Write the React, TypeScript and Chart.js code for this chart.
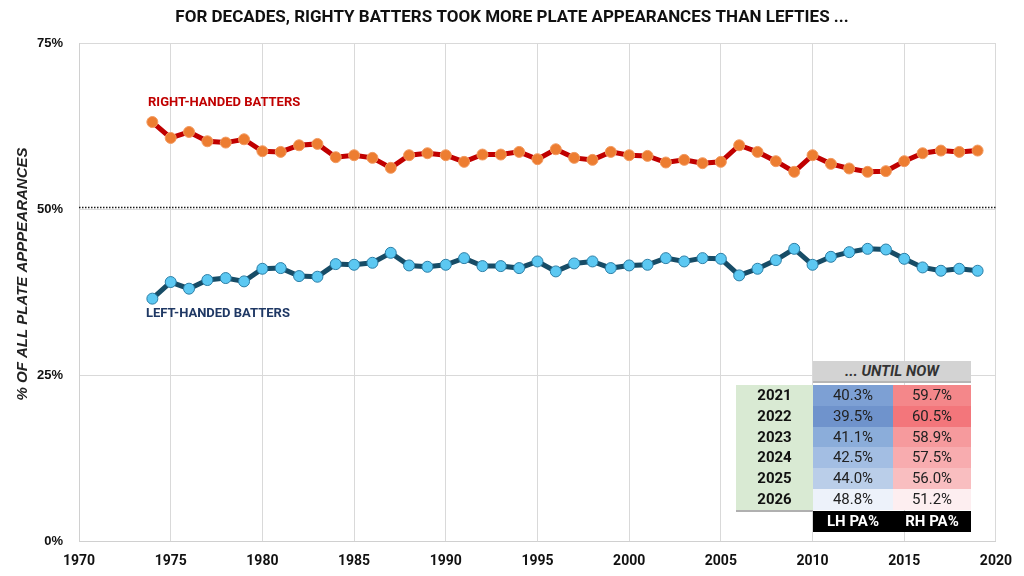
import React, { useEffect, useRef } from "react";
import { Chart, registerables } from "chart.js";

Chart.register(...registerables);

const years = [
  1974, 1975, 1976, 1977, 1978, 1979, 1980, 1981, 1982, 1983,
  1984, 1985, 1986, 1987, 1988, 1989, 1990, 1991, 1992, 1993,
  1994, 1995, 1996, 1997, 1998, 1999, 2000, 2001, 2002, 2003,
  2004, 2005, 2006, 2007, 2008, 2009, 2010, 2011, 2012, 2013,
  2014, 2015, 2016, 2017, 2018, 2019,
];

const rhValues = [
  63.1, 60.7, 61.6, 60.2, 60.0, 60.5, 58.7, 58.6, 59.6, 59.8,
  57.8, 58.1, 57.7, 56.2, 58.1, 58.4, 58.1, 57.1, 58.2, 58.2,
  58.6, 57.5, 59.0, 57.7, 57.4, 58.6, 58.1, 58.0, 57.0, 57.4,
  56.9, 57.1, 59.6, 58.6, 57.2, 55.6, 58.1, 56.8, 56.1, 55.6,
  55.7, 57.2, 58.4, 58.8, 58.6, 58.8,
];

const lhValues = [
  36.5, 39.0, 38.0, 39.3, 39.6, 39.1, 41.0, 41.1, 39.9, 39.8,
  41.7, 41.6, 41.9, 43.4, 41.5, 41.3, 41.6, 42.6, 41.4, 41.4,
  41.1, 42.1, 40.6, 41.8, 42.1, 41.1, 41.5, 41.6, 42.6, 42.1,
  42.6, 42.5, 40.0, 41.0, 42.3, 44.0, 41.6, 42.8, 43.5, 44.0,
  43.9, 42.5, 41.2, 40.7, 41.0, 40.7,
];

const referenceValue = 50;

const tableYears = ["2021", "2022", "2023", "2024", "2025", "2026"];
const tableLH = ["40.3%", "39.5%", "41.1%", "42.5%", "44.0%", "48.8%"];
const tableRH = ["59.7%", "60.5%", "58.9%", "57.5%", "56.0%", "51.2%"];
const lhShades = ["#7da0d4", "#6f93cc", "#8badda", "#a3bee3", "#bacee9", "#edf2fa"];
const rhShades = ["#f4878a", "#f3767b", "#f69a9d", "#f8acaf", "#f9bec0", "#fdeef0"];

const TITLE = "FOR DECADES, RIGHTY BATTERS TOOK MORE PLATE APPEARANCES THAN LEFTIES ...";
const Y_TITLE = "% OF ALL PLATE APPPEARANCES";

export default function App() {
  const canvasRef = useRef<HTMLCanvasElement | null>(null);

  useEffect(() => {
    if (!canvasRef.current) return;
    const refLinePlugin = {
      id: "refLine",
      beforeDatasetsDraw(chart: any) {
        const { ctx, chartArea, scales } = chart;
        const y = Math.round(scales.y.getPixelForValue(referenceValue)) - 1.5;
        ctx.save();
        ctx.strokeStyle = "#1a1a1a";
        ctx.lineWidth = 1.5;
        ctx.setLineDash([1.5, 1.5]);
        ctx.beginPath();
        ctx.moveTo(chartArea.left, y);
        ctx.lineTo(chartArea.right, y);
        ctx.stroke();
        ctx.restore();
      },
      afterDraw(chart: any) {
        const { ctx } = chart;
        ctx.save();
        ctx.translate(22.5, 274);
        ctx.rotate(-Math.PI / 2);
        ctx.font = "italic bold 15px 'Liberation Sans', Arial, sans-serif";
        ctx.fillStyle = "#222222";
        ctx.textAlign = "center";
        ctx.textBaseline = "middle";
        ctx.fillText(Y_TITLE, 0, 0);
        ctx.restore();
      },
    };

    const chart = new Chart(canvasRef.current, {
      type: "line",
      data: {
        datasets: [
          {
            label: "Right-handed batters",
            data: years.map((yr, i) => ({ x: yr, y: rhValues[i] })),
            borderColor: "#c00000",
            borderWidth: 5,
            pointBackgroundColor: "#ed7d31",
            pointBorderColor: "#f19a60",
            pointBorderWidth: 1,
            pointRadius: 5.5,
            tension: 0,
          },
          {
            label: "Left-handed batters",
            data: years.map((yr, i) => ({ x: yr, y: lhValues[i] })),
            borderColor: "#174c66",
            borderWidth: 5,
            pointBackgroundColor: "#5cc8f2",
            pointBorderColor: "#2b7ea6",
            pointBorderWidth: 1,
            pointRadius: 5.5,
            tension: 0,
          },
        ],
      },
      options: {
        animation: false,
        responsive: false,
        maintainAspectRatio: false,
        layout: { padding: { left: 26, right: 26, top: 0, bottom: 0 } },
        plugins: {
          legend: { display: false },
          tooltip: { enabled: false },
          title: {
            display: true,
            text: TITLE,
            color: "#111111",
            font: { family: "Roboto", size: 17, weight: "bold" },
            padding: { top: 8, bottom: 14.6 },
          },
        },
        scales: {
          x: {
            type: "linear",
            min: 1970,
            max: 2020,
            ticks: {
              stepSize: 5,
              autoSkip: false,
              maxRotation: 0,
              padding: 12,
              color: "#111111",
              font: { family: "Roboto", size: 14, weight: "bold" },
              callback: (v: any) => String(v),
            },
            grid: { color: "#d9d9d9", lineWidth: 1, drawTicks: false },
            border: { color: "#d0d0d0" },
            afterFit: (s: any) => {
              s.height = 35;
            },
          },
          y: {
            min: 0,
            max: 75,
            ticks: {
              stepSize: 25,
              padding: 16,
              color: "#111111",
              font: { family: "Liberation Sans", size: 13, weight: "bold" },
              callback: (v: any) => v + "%",
            },
            grid: { color: "#d9d9d9", lineWidth: 1, drawTicks: false },
            border: { color: "#d0d0d0" },
            afterFit: (s: any) => {
              s.width = 53;
            },
          },
        },
      },
      plugins: [refLinePlugin],
    } as any);

    return () => chart.destroy();
  }, []);

  const font = "Roboto, 'Liberation Sans', sans-serif";
  const rowTop = 385;
  const rowH = 20.8;

  return (
    <div
      style={{
        position: "fixed",
        left: 0,
        top: 0,
        width: 1024,
        height: 576,
        background: "#ffffff",
        overflow: "hidden",
        fontFamily: font,
      }}
    >
      <canvas ref={canvasRef} width={1024} height={576} style={{ display: "block", width: 1024, height: 576 }} />

      <div
        style={{
          position: "absolute",
          left: 148,
          top: 94,
          fontSize: 13,
          fontWeight: 700,
          color: "#c00000",
          whiteSpace: "nowrap",
          lineHeight: "16px",
        }}
      >
        RIGHT-HANDED BATTERS
      </div>
      <div
        style={{
          position: "absolute",
          left: 146,
          top: 305,
          fontSize: 13,
          fontWeight: 700,
          color: "#1f3864",
          whiteSpace: "nowrap",
          lineHeight: "16px",
        }}
      >
        LEFT-HANDED BATTERS
      </div>

      {/* header */}
      <div
        style={{
          position: "absolute",
          left: 813,
          top: 361,
          width: 158,
          height: 22,
          background: "#d3d3d3",
          borderBottom: "2px solid #b5b5b5",
          boxSizing: "border-box",
          textAlign: "center",
          fontSize: 15,
          fontWeight: 700,
          fontStyle: "italic",
          color: "#333333",
          lineHeight: "21px",
        }}
      >
        ... UNTIL NOW
      </div>

      {tableYears.map((yr, i) => (
        <React.Fragment key={yr}>
          <div
            style={{
              position: "absolute",
              left: 736,
              top: rowTop + i * rowH,
              width: 77,
              height: rowH + 0.5,
              background: "#d9ead3",
              textAlign: "center",
              fontSize: 15,
              fontWeight: 700,
              color: "#111111",
              lineHeight: rowH + "px",
            }}
          >
            {yr}
          </div>
          <div
            style={{
              position: "absolute",
              left: 813,
              top: rowTop + i * rowH,
              width: 80,
              height: rowH + 0.5,
              background: lhShades[i],
              textAlign: "center",
              fontSize: 15,
              color: "#222222",
              lineHeight: rowH + "px",
            }}
          >
            {tableLH[i]}
          </div>
          <div
            style={{
              position: "absolute",
              left: 893,
              top: rowTop + i * rowH,
              width: 78,
              height: rowH + 0.5,
              background: rhShades[i],
              textAlign: "center",
              fontSize: 15,
              color: "#222222",
              lineHeight: rowH + "px",
            }}
          >
            {tableRH[i]}
          </div>
        </React.Fragment>
      ))}
      <div
        style={{
          position: "absolute",
          left: 736,
          top: 510,
          width: 77,
          height: 1.5,
          background: "#b0b0b0",
        }}
      />

      {/* footer */}
      <div
        style={{
          position: "absolute",
          left: 813,
          top: 511,
          width: 158,
          height: 21,
          background: "#000000",
          color: "#ffffff",
          fontSize: 15,
          fontWeight: 700,
          lineHeight: "21px",
          display: "flex",
        }}
      >
        <div style={{ width: 80, textAlign: "center" }}>LH PA%</div>
        <div style={{ width: 78, textAlign: "center" }}>RH PA%</div>
      </div>
    </div>
  );
}
